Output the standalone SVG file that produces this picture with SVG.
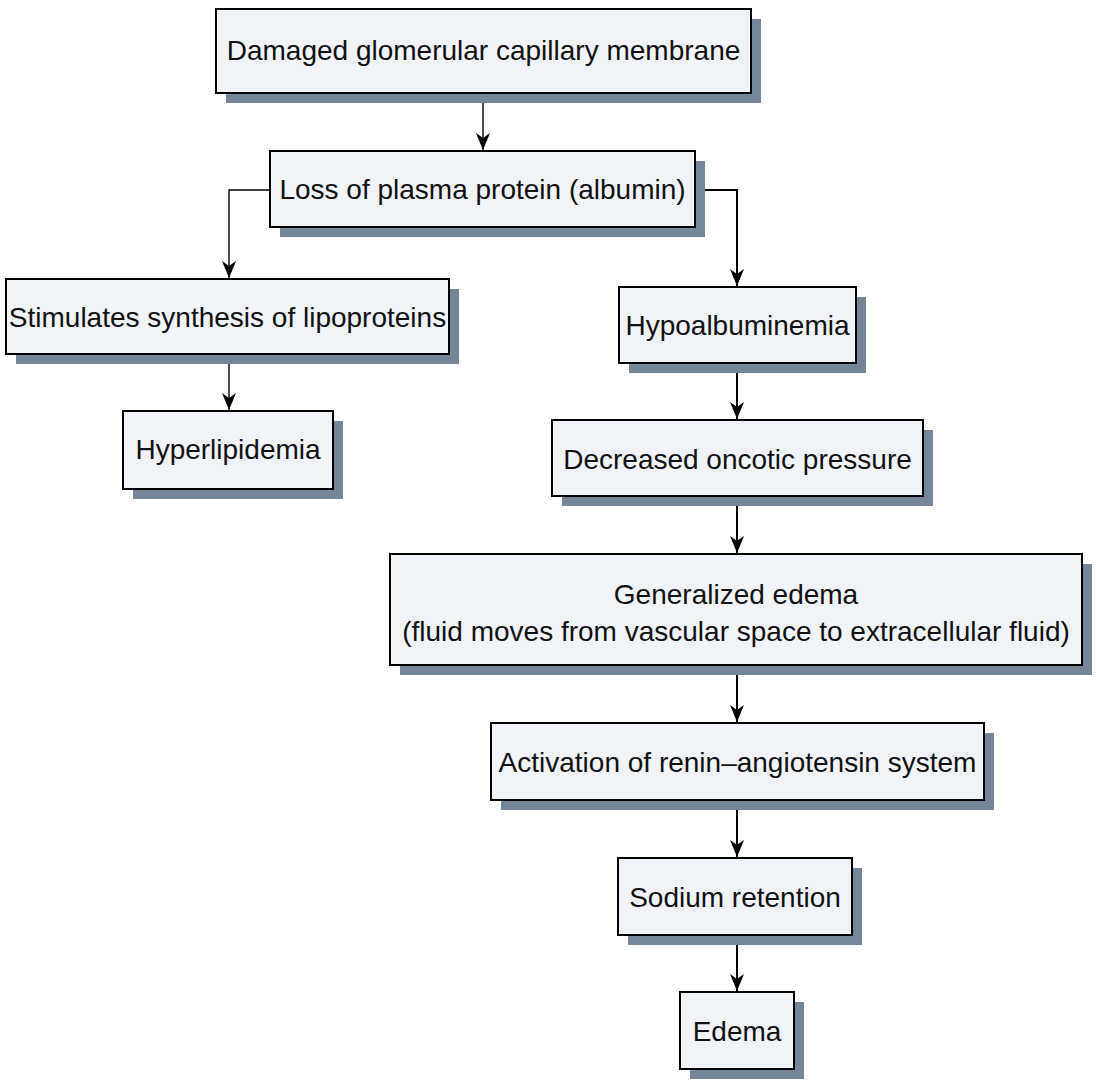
<svg xmlns="http://www.w3.org/2000/svg" width="1096" height="1083" viewBox="0 0 1096 1083">
<defs>
<style>
.shadow{fill:#758699;stroke:none}
.box{fill:#f0f3f8;stroke:#000;stroke-width:2}
.t{font-family:"Liberation Sans",Arial,sans-serif;font-size:28px;fill:#111;text-anchor:middle}
.c{fill:none;stroke:#000;stroke-width:1.4}
.c2{fill:none;stroke:#000;stroke-width:2}
</style>
<marker id="ah" markerUnits="userSpaceOnUse" markerWidth="18" markerHeight="16" viewBox="-17 -8 18 16" refX="0" refY="0" orient="auto" overflow="visible">
<path d="M0,0 L-17,-7 L-12,0 L-17,7 Z" fill="#000"/>
</marker>
</defs>
<rect width="1096" height="1083" fill="#fff"/>
<g id="connectors">
<path class="c" d="M483,93 V150" marker-end="url(#ah)"/>
<path class="c" d="M270,190 H229 V278" marker-end="url(#ah)"/>
<path class="c2" d="M695,190 H737 V286" marker-end="url(#ah)"/>
<path class="c" d="M229,354 V410" marker-end="url(#ah)"/>
<path class="c2" d="M737,363 V419" marker-end="url(#ah)"/>
<path class="c2" d="M737,496 V553" marker-end="url(#ah)"/>
<path class="c2" d="M737,665 V722" marker-end="url(#ah)"/>
<path class="c2" d="M737,800 V857" marker-end="url(#ah)"/>
<path class="c2" d="M737,935 V991" marker-end="url(#ah)"/>
</g>
<g id="n1"><rect class="shadow" x="226" y="19" width="535" height="84"/><rect class="box" x="216" y="9" width="535" height="84"/><text class="t" x="483.5" y="60">Damaged glomerular capillary membrane</text></g>
<g id="n2"><rect class="shadow" x="280" y="161" width="425" height="76"/><rect class="box" x="270" y="151" width="425" height="76"/><text class="t" x="482.5" y="199">Loss of plasma protein (albumin)</text></g>
<g id="n3"><rect class="shadow" x="16" y="289" width="443" height="75"/><rect class="box" x="6" y="279" width="443" height="75"/><text class="t" x="227.5" y="327">Stimulates synthesis of lipoproteins</text></g>
<g id="n4"><rect class="shadow" x="133" y="421" width="210" height="78"/><rect class="box" x="123" y="411" width="210" height="78"/><text class="t" x="228" y="459">Hyperlipidemia</text></g>
<g id="n5"><rect class="shadow" x="629" y="297" width="237" height="76"/><rect class="box" x="619" y="287" width="237" height="76"/><text class="t" x="737.5" y="335">Hypoalbuminemia</text></g>
<g id="n6"><rect class="shadow" x="562" y="430" width="371" height="76"/><rect class="box" x="552" y="420" width="371" height="76"/><text class="t" x="737.5" y="469">Decreased oncotic pressure</text></g>
<g id="n7"><rect class="shadow" x="400" y="564" width="692" height="111"/><rect class="box" x="390" y="554" width="692" height="111"/><text class="t" x="736" y="604">Generalized edema</text><text class="t" x="736" y="641">(fluid moves from vascular space to extracellular fluid)</text></g>
<g id="n8"><rect class="shadow" x="501" y="733" width="493" height="77"/><rect class="box" x="491" y="723" width="493" height="77"/><text class="t" x="737.5" y="772">Activation of renin–angiotensin system</text></g>
<g id="n9"><rect class="shadow" x="628" y="868" width="234" height="77"/><rect class="box" x="618" y="858" width="234" height="77"/><text class="t" x="735" y="907">Sodium retention</text></g>
<g id="n10"><rect class="shadow" x="690" y="1002" width="114" height="77"/><rect class="box" x="680" y="992" width="114" height="77"/><text class="t" x="737" y="1041">Edema</text></g>
</svg>
